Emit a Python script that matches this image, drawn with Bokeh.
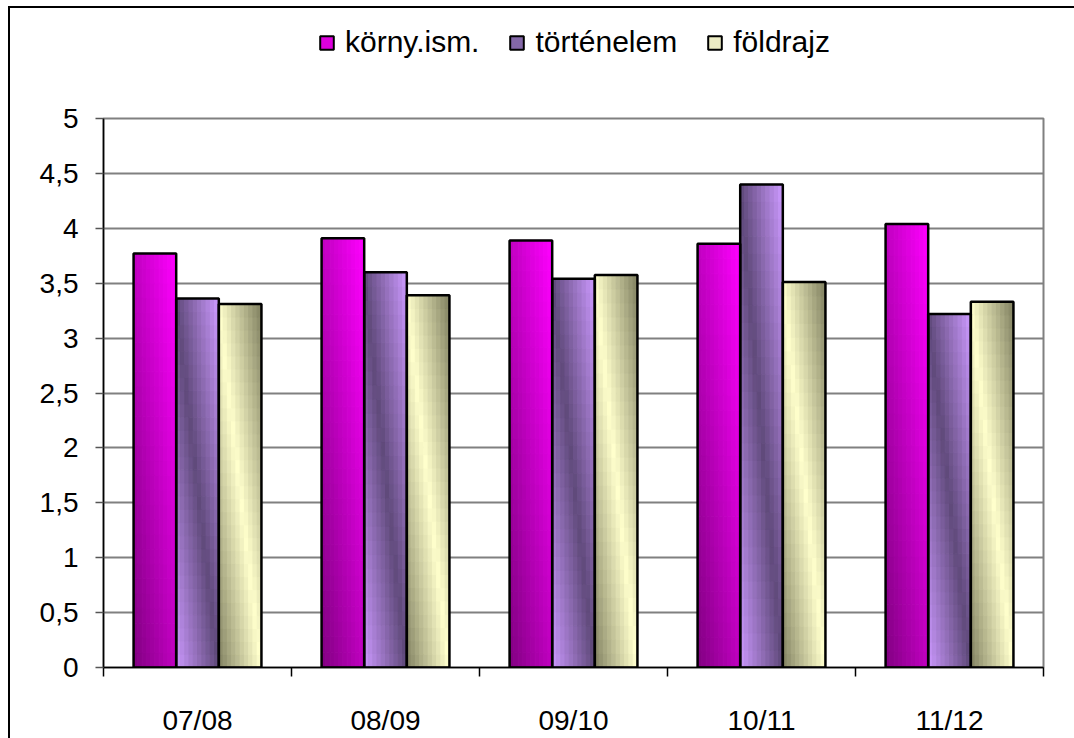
from bokeh.plotting import figure
from bokeh.layouts import column
from bokeh.models import Range1d, FixedTicker, Legend, LegendItem, ColumnDataSource
from bokeh.embed import file_html
from bokeh.resources import INLINE

# ---- data ----
categories = ["07/08", "08/09", "09/10", "10/11", "11/12"]
korny_ism = [3.77, 3.91, 3.89, 3.86, 4.04]
tortenelem = [3.36, 3.60, 3.54, 4.40, 3.22]
foldrajz = [3.31, 3.39, 3.575, 3.51, 3.33]
series_names = ["körny.ism.", "történelem", "földrajz"]
y_ticks = [0, 0.5, 1, 1.5, 2, 2.5, 3, 3.5, 4, 4.5, 5]

series_values = [korny_ism, tortenelem, foldrajz]

FONT = "Liberation Sans"
NAN = float("nan")


def lerp(c1, c2, t):
    return "#%02x%02x%02x" % tuple(int(round(a + (b - a) * t)) for a, b in zip(c1, c2))


def col_korny(u, v):
    return lerp((128, 0, 128), (255, 0, 255), (u + v) / 2)


def col_tort(u, v):
    return lerp((96, 74, 123), (204, 153, 255), abs(u + v - 1))


def col_fold(u, v):
    return lerp((255, 255, 204), (128, 128, 96), abs(u + v - 1))


color_funcs = [col_korny, col_tort, col_fold]
legend_colors = ["#dd00dd", "#8468a8", "#ececc4"]

W = 1064
LEG_H = 95
MAIN_H = 635

# ---- legend strip ----
lf = figure(width=W, height=LEG_H, output_backend="svg", toolbar_location=None,
            x_range=Range1d(0, 1), y_range=Range1d(0, 1),
            x_axis_location=None, y_axis_location=None,
            min_border_left=0, min_border_right=0, min_border_top=0, min_border_bottom=0)
lf.outline_line_color = None
lf.xgrid.visible = False
lf.ygrid.visible = False
lf.background_fill_color = "white"
lf.border_fill_color = "white"

items = []
for name, col in zip(series_names, legend_colors):
    r = lf.quad(left=[NAN], right=[NAN], top=[NAN], bottom=[NAN],
                fill_color=col, line_color="black", line_width=2)
    items.append(LegendItem(label=name, renderers=[r], index=0))

legend = Legend(items=items, orientation="horizontal", location=(215, 44),
                glyph_width=17, glyph_height=17, label_standoff=10, spacing=29,
                padding=0, margin=0, border_line_alpha=0, background_fill_alpha=0,
                label_text_font=FONT, label_text_font_size="30px", label_text_color="black")
lf.add_layout(legend, "center")

# ---- main chart ----
p = figure(width=W, height=MAIN_H, output_backend="svg", toolbar_location=None,
           x_range=Range1d(0, 5), y_range=Range1d(0, 5),
           min_border_left=93, min_border_right=31, min_border_top=15, min_border_bottom=70)

p.background_fill_color = "white"
p.border_fill_color = "white"
p.outline_line_color = "#808080"
p.outline_line_width = 2

p.xgrid.visible = False
p.ygrid.ticker = FixedTicker(ticks=y_ticks)
p.ygrid.grid_line_color = "#808080"
p.ygrid.grid_line_width = 2

p.yaxis.ticker = FixedTicker(ticks=y_ticks)
p.yaxis.major_label_overrides = {t: (str(t).replace(".", ",") if t != int(t) else str(int(t))) for t in y_ticks}
p.yaxis.axis_line_color = "black"
p.yaxis.axis_line_width = 1.5
p.yaxis.major_tick_line_color = "#555555"
p.yaxis.major_tick_line_width = 1.5
p.yaxis.major_tick_out = 8
p.yaxis.major_tick_in = 0
p.yaxis.minor_tick_line_color = None
p.yaxis.major_label_standoff = 17
p.yaxis.major_label_text_font = FONT
p.yaxis.major_label_text_font_size = "28px"
p.yaxis.major_label_text_color = "black"

centers = [i + 0.5 for i in range(len(categories))]
p.xaxis.ticker = FixedTicker(ticks=centers, minor_ticks=list(range(len(categories) + 1)))
p.xaxis.major_label_overrides = {c: name for c, name in zip(centers, categories)}
p.xaxis.axis_line_color = "black"
p.xaxis.axis_line_width = 1.5
p.xaxis.major_tick_line_color = None
p.xaxis.major_tick_out = 0
p.xaxis.major_tick_in = 0
p.xaxis.minor_tick_line_color = "black"
p.xaxis.minor_tick_line_width = 1.5
p.xaxis.minor_tick_out = 9
p.xaxis.minor_tick_in = 0
p.xaxis.major_label_standoff = 28
p.xaxis.major_label_text_font = FONT
p.xaxis.major_label_text_font_size = "28px"
p.xaxis.major_label_text_color = "black"

# bars with diagonal gradient fills
group_start = 0.16
bar_w = 0.2267
NC, NR = 10, 28

L, R, B, T, C = [], [], [], [], []
OL, OR, OT = [], [], []
for j, (vals, cf) in enumerate(zip(series_values, color_funcs)):
    for i, val in enumerate(vals):
        x0 = i + group_start + j * bar_w
        OL.append(x0)
        OR.append(x0 + bar_w)
        OT.append(val)
        for c in range(NC):
            for r in range(NR):
                u = (c + 0.5) / NC
                v = (r + 0.5) / NR
                L.append(x0 + c * bar_w / NC)
                R.append(x0 + (c + 1) * bar_w / NC)
                B.append(val * r / NR)
                T.append(val * (r + 1) / NR)
                C.append(cf(u, v))

grad = ColumnDataSource(dict(left=L, right=R, bottom=B, top=T, color=C))
p.quad(left="left", right="right", bottom="bottom", top="top", source=grad,
       fill_color="color", line_color="color", line_width=1)

outl = ColumnDataSource(dict(left=OL, right=OR, top=OT, bottom=[0] * len(OT)))
p.quad(left="left", right="right", bottom="bottom", top="top", source=outl,
       fill_alpha=0, line_color="black", line_width=2.5)

layout = column(lf, p, spacing=0)
layout.styles = {"border-left": "2px solid black", "border-top": "2px solid black",
                 "margin-left": "8px", "margin-top": "6px"}

open("out.html", "w").write(file_html(layout, INLINE))
